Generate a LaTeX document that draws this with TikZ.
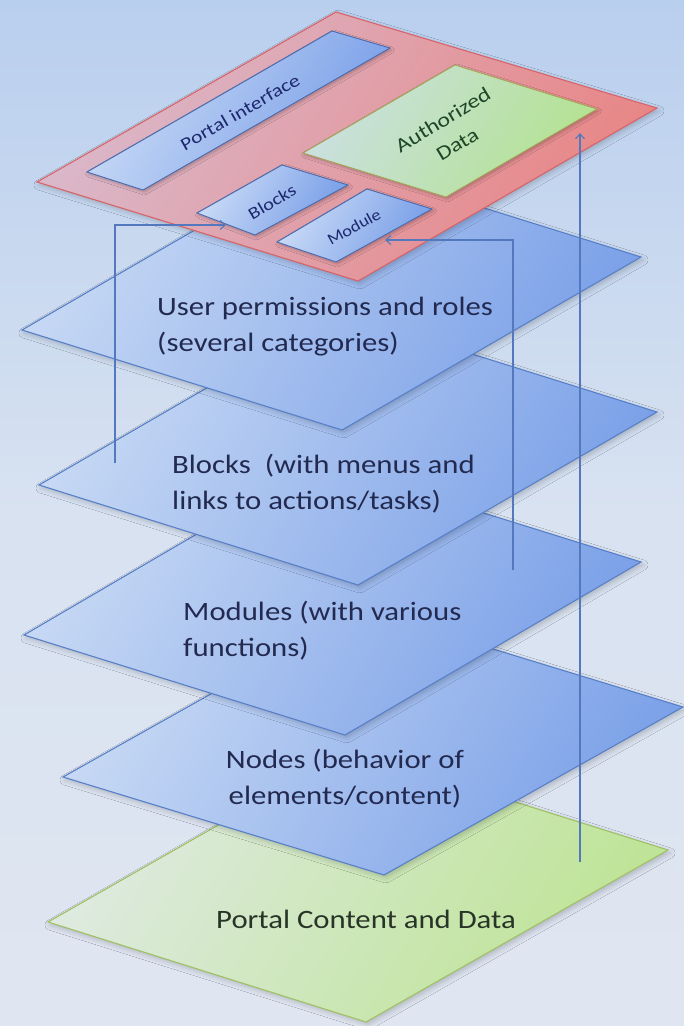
\documentclass[tikz,border=0pt]{standalone}
\usepackage{fontspec}
\setmainfont{Carlito}
\usetikzlibrary{arrows.meta,shadows.blur}
\definecolor{bgTop}{RGB}{185,207,238}
\definecolor{bgMid}{RGB}{216,226,241}
\definecolor{bgBot}{RGB}{224,230,241}
\definecolor{blueL}{RGB}{198,216,244}
\definecolor{blueD}{RGB}{124,161,232}
\definecolor{blueEdge}{RGB}{88,128,200}
\definecolor{redL}{RGB}{218,184,202}
\definecolor{redD}{RGB}{232,134,134}
\definecolor{redEdge}{RGB}{214,100,104}
\definecolor{greenL}{RGB}{222,234,224}
\definecolor{greenD}{RGB}{190,228,150}
\definecolor{greenEdge}{RGB}{160,192,100}
\definecolor{agreenL}{RGB}{202,224,224}
\definecolor{agreenD}{RGB}{180,226,146}
\definecolor{agreenEdge}{RGB}{165,165,85}
\definecolor{tileL}{RGB}{202,219,246}
\definecolor{tileD}{RGB}{120,158,232}
\definecolor{tileEdge}{RGB}{72,106,176}
\definecolor{txtBlue}{RGB}{35,42,80}
\definecolor{txtGreen}{RGB}{40,52,40}
\definecolor{lblBlue}{RGB}{30,40,110}
\definecolor{lblGreen}{RGB}{30,70,40}
\definecolor{arrowBlue}{RGB}{84,120,190}
\newcommand{\twolines}[2]{\begin{tabular}[t]{@{}l@{}}#1\\#2\end{tabular}}
\newcommand{\twolinesc}[2]{\begin{tabular}[t]{@{}c@{}}#1\\#2\end{tabular}}
\begin{document}
\begin{tikzpicture}[x=1pt,y=-1pt,
  shadowed/.style={blur shadow={shadow xshift=2pt, shadow yshift=-3pt, shadow blur radius=5pt, shadow opacity=20}},
  plane/.style={shadowed, line width=1.1pt, line join=miter},
  blueplane/.style={plane, draw=blueEdge, top color=blueL, bottom color=blueD, shading angle=60},
  redplane/.style={plane, draw=redEdge, top color=redL, bottom color=redD, shading angle=60},
  greenplane/.style={plane, draw=greenEdge, top color=greenL, bottom color=greenD, shading angle=60},
  tile/.style={line width=0.9pt, draw=tileEdge, top color=tileL, bottom color=tileD, shading angle=60,
    blur shadow={shadow xshift=1.5pt, shadow yshift=-2pt, shadow blur radius=3pt, shadow opacity=25}},
  datatile/.style={line width=0.9pt, draw=agreenEdge, top color=agreenL, bottom color=agreenD, shading angle=60,
    blur shadow={shadow xshift=1.5pt, shadow yshift=-2pt, shadow blur radius=3pt, shadow opacity=25}},
  bigtext/.style={font=\fontsize{26.5}{36}\selectfont, text=txtBlue, inner sep=0pt, xscale=1.16, anchor=base west},
  flow/.style={draw=arrowBlue, line width=1.1pt, -{Straight Barb[length=5pt,width=9pt]}}
]
\useasboundingbox (0,0) rectangle (684,1026);
\shade[top color=bgTop, bottom color=bgBot, middle color=bgMid] (0,0) rectangle (684,1026);

% bottom plane: Portal Content and Data
\path[greenplane] (48,922) -- (350,750) -- (668,850) -- (366,1022) -- cycle;
\node[bigtext, text=txtGreen] (content) at (216,928) {Portal Content and Data};

% Nodes
\path[blueplane] (63,777) -- (362,609) -- (683,707) -- (384,875) -- cycle;
\node[bigtext, anchor=base] (nodes) at (345,768) {\twolinesc{Nodes (behavior of}{elements/content)}};

% Modules
\path[blueplane] (24,635) -- (320,462) -- (641,562) -- (345,735) -- cycle;
\node[bigtext] (modules) at (183,620) {\twolines{Modules (with various}{functions)}};

% Blocks
\path[blueplane] (39,485) -- (338,312) -- (657,412) -- (358,585) -- cycle;
\node[bigtext] (blocks) at (172,473) {\twolines{Blocks\ \ (with menus and}{links to actions/tasks)}};

% User permissions
\path[blueplane] (22,330) -- (321,157) -- (641,257) -- (342,430) -- cycle;
\node[bigtext] (users) at (157,315) {\twolines{User permissions and roles}{(several categories)}};

% top plane
\path[redplane] (37,182) -- (336,12) -- (657,108) -- (358,281) -- cycle;
\path[tile] (87,172) -- (332,31) -- (390,48) -- (143,190) -- cycle;
\path[datatile] (303,153) -- (455,65) -- (597,109) -- (446,197) -- cycle;
\path[tile] (197,213) -- (282,165) -- (348,185) -- (255,235) -- cycle;
\path[tile] (277,242) -- (367,189) -- (432,209) -- (336,262) -- cycle;

\node[rotate=30, xscale=1.2, inner sep=0pt, font=\fontsize{18}{22}\selectfont, text=lblBlue] (pint) at (240,112) {Portal interface};
\node[rotate=31, xscale=1.2, inner sep=0pt, align=center, font=\fontsize{20}{28}\selectfont, text=lblGreen] (adata) at (450,132) {Authorized\\Data};
\node[rotate=30.5, xscale=1.2, inner sep=0pt, font=\fontsize{17}{20}\selectfont, text=lblBlue] (bl) at (272,202) {Blocks};
\node[rotate=29, xscale=1.15, inner sep=0pt, font=\fontsize{16}{19}\selectfont, text=lblBlue] (mo) at (354,227) {Module};

% connectors
\coordinate (bS) at (115,463);
\coordinate (bE) at (226,225);
\coordinate (mS) at (513,570);
\coordinate (mE) at (385,240);
\coordinate (dS) at (580,862);
\coordinate (dE) at (580,133);
\draw[flow] (bS) |- (bE);
\draw[flow] (mS) |- (mE);
\draw[flow] (dS) -- (dE);
\end{tikzpicture}
\end{document}
